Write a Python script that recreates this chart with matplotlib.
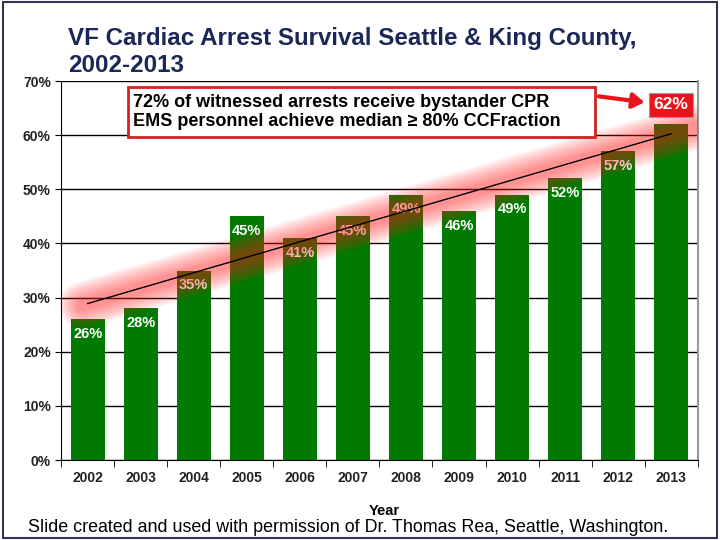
import numpy as np
import matplotlib.pyplot as plt
from matplotlib.patches import Rectangle

years = ['2002', '2003', '2004', '2005', '2006', '2007',
         '2008', '2009', '2010', '2011', '2012', '2013']
survival = [26, 28, 35, 45, 41, 45, 49, 46, 49, 52, 57, 62]
yticks = [0, 10, 20, 30, 40, 50, 60, 70]

title = 'VF Cardiac Arrest Survival Seattle & King County,\n2002-2013'
box_text = ('72% of witnessed arrests receive bystander CPR\n'
            'EMS personnel achieve median \u2265 80% CCFraction')
credit = 'Slide created and used with permission of Dr. Thomas Rea, Seattle, Washington.'

plt.rcParams['font.family'] = ['Liberation Sans', 'DejaVu Sans']

fig = plt.figure(figsize=(7.2, 5.4), dpi=100)
ax = fig.add_axes([0.085, 0.148, 0.884, 0.702])

x = np.arange(len(years))
ax.bar(x, survival, width=0.64, color='#007A00', zorder=2)

for i, v in enumerate(survival[:-1]):
    ax.text(i, v - 1.4, f'{v}%', ha='center', va='top', color='white',
            fontsize=10.5, fontweight='bold', zorder=3)

# linear trend with red glow
m, b = np.polyfit(x, survival, 1)
tx = np.array([-0.1, 11.4])
for lw in np.arange(34, 6, -2):
    ax.plot(tx, m * tx + b, color='#FF2020', lw=lw, alpha=0.045,
            solid_capstyle='round', zorder=4)
ax.plot(x, m * x + b, color='black', lw=1, zorder=5)

ax.set_xlim(-0.5, 11.5)
ax.set_ylim(0, 70)
ax.set_yticks(yticks)
ax.set_yticklabels([f'{t}%' for t in yticks], fontsize=10, fontweight='bold',
                   color='#222222')
ax.set_xticks(x)
ax.set_xticklabels(years, fontsize=10, fontweight='bold', color='#222222')
ax.set_xticks(np.arange(-0.5, 12, 1), minor=True)
ax.tick_params(axis='x', which='major', length=0, pad=8)
ax.tick_params(axis='x', which='minor', length=5, direction='out')
ax.tick_params(axis='y', length=4, direction='out')
ax.grid(axis='y', color='black', lw=1, zorder=1)
ax.set_axisbelow(True)
ax.spines['top'].set_visible(False)
ax.spines['right'].set_color('#999999')
ax.spines['right'].set_linewidth(1.5)
fig.text(384 / 720, 1 - 511 / 540, 'Year', ha='center', va='center',
         fontsize=10.5, fontweight='bold')

# highlighted last value
ax.text(11, 65.6, f'{survival[-1]}%', ha='center', va='center', color='white',
        fontsize=12.5, fontweight='bold', zorder=6,
        bbox=dict(boxstyle='square,pad=0.25', fc='#E8141B', ec='#999999', lw=0.8))

# callout box
fig.patches.append(Rectangle((128 / 720, 1 - 137 / 540), 467 / 720, 50 / 540,
                             transform=fig.transFigure, fc='white',
                             ec='#D42020', lw=2, zorder=7))
fig.text(133 / 720, 1 - 112 / 540, box_text, ha='left', va='center',
         fontsize=13, fontweight='bold', linespacing=1.1, zorder=8)
ax.annotate('', xy=(10.55, 66.0), xycoords='data',
            xytext=(596 / 720, 1 - 96 / 540), textcoords='figure fraction',
            arrowprops=dict(arrowstyle='-|>,head_width=0.45,head_length=0.7',
                            color='#E8141B', lw=3), zorder=8)

fig.text(68 / 720, 1 - 52 / 540, title, ha='left', va='center', fontsize=17.4,
         fontweight='bold', color='#1B2757', linespacing=1.2)
fig.text(28 / 720, 1 - 528 / 540, credit, ha='left', va='center', fontsize=12.9)

fig.patches.append(Rectangle((0.004, 0.004), 0.992, 0.992, transform=fig.transFigure,
                             fill=False, ec='#333355', lw=1.5))

fig.savefig('out.png', dpi=100)
